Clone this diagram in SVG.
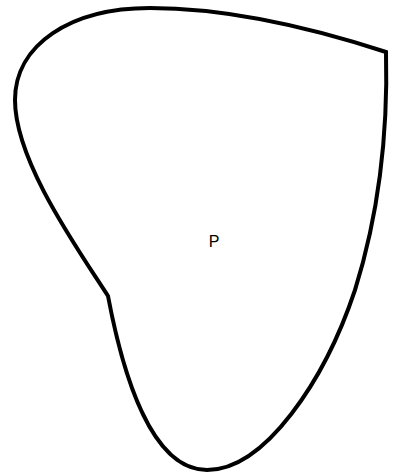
<svg xmlns="http://www.w3.org/2000/svg" width="404" height="475" viewBox="0 0 404 475">
<style>
.region{fill:#fff;stroke:#000;stroke-width:4;stroke-linejoin:miter}
.lbl{font-family:"Liberation Sans",Arial,sans-serif;font-size:16px;fill:#000}
</style>
<rect width="404" height="475" fill="#fff"/>
<g id="P">
<path class="region" d="M386,52 C300,24 220,8 150,8 C70,8 15,45 15,100 C15,160 75,245 108,296 C122,370 150,470 207,470 C265,470 325,380 355,290 C380,210 388,130 386,52 Z"/>
<text class="lbl" x="214" y="247" text-anchor="middle">P</text>
</g>
</svg>
